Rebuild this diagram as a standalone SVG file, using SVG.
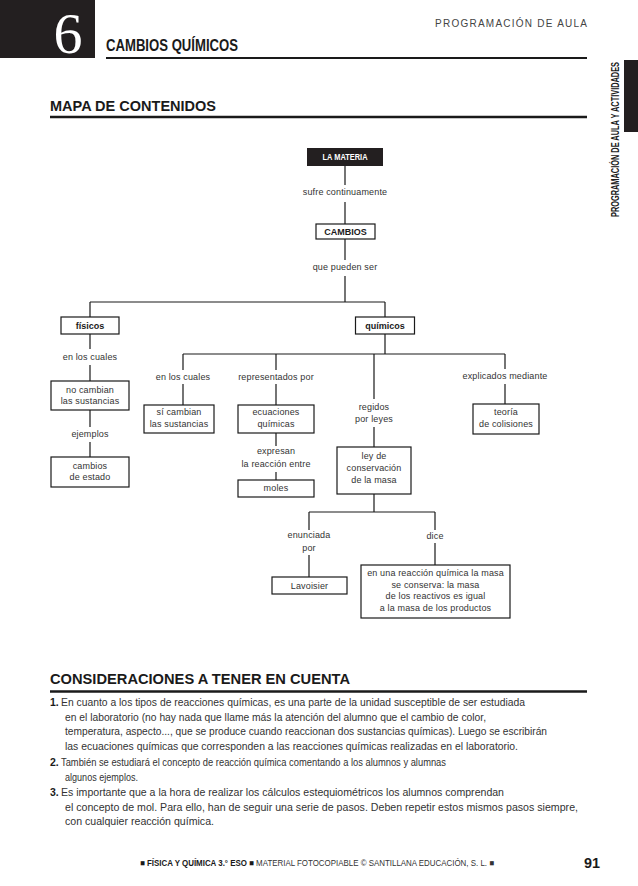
<svg xmlns="http://www.w3.org/2000/svg" width="638" height="886" viewBox="0 0 638 886">
<style>
.ln{stroke:#1a1a1a;stroke-width:1.2;fill:none}
.bx{fill:#fff;stroke:#1a1a1a;stroke-width:1.2}
.t{font-family:"Liberation Sans",Arial,sans-serif;font-size:9px;fill:#333;text-anchor:middle;letter-spacing:0.15px}
.tb{font-family:"Liberation Sans",Arial,sans-serif;font-size:9px;font-weight:bold;fill:#1a1a1a;text-anchor:middle}
.h{font-family:"Liberation Sans",Arial,sans-serif;font-weight:bold;fill:#1a1a1a}
.p{font-family:"Liberation Sans",Arial,sans-serif;font-size:10px;fill:#333}
.pn{font-family:"Liberation Sans",Arial,sans-serif;font-size:10.5px;font-weight:bold;fill:#1a1a1a}
</style>
<rect width="638" height="886" fill="#fff"/>
<!-- header -->
<g id="header">
<rect x="0" y="0" width="95" height="58" fill="#231f20"/>
<text x="68" y="53" font-family="Liberation Serif,serif" font-size="58" fill="#fff" text-anchor="middle">6</text>
<text class="h" x="106" y="51" font-size="16.5" textLength="132" lengthAdjust="spacingAndGlyphs">CAMBIOS QUÍMICOS</text>
<line x1="106" y1="58" x2="587" y2="58" stroke="#1a1a1a" stroke-width="2"/>
<text x="587" y="27" font-family="Liberation Sans,Arial,sans-serif" font-size="10" fill="#444" text-anchor="end" textLength="152" lengthAdjust="spacing">PROGRAMACIÓN DE AULA</text>
<rect x="624" y="60" width="14" height="72" fill="#231f20"/>
<text transform="translate(619,217) rotate(-90)" font-family="Liberation Sans,Arial,sans-serif" font-size="10" font-weight="bold" fill="#1a1a1a" textLength="155" lengthAdjust="spacingAndGlyphs">PROGRAMACIÓN DE AULA Y ACTIVIDADES</text>
<text class="h" x="50" y="111" font-size="15.5" textLength="166" lengthAdjust="spacingAndGlyphs">MAPA DE CONTENIDOS</text>
<line x1="50" y1="117" x2="587" y2="117" stroke="#1a1a1a" stroke-width="2.5"/>
</g>
<!-- connectors -->
<g id="connectors" class="ln">
<path d="M345,166V185 M345,202V224 M345,239V260 M345,276V302"/>
<path d="M90,302H385 M90,302V317 M385,302V317"/>
<path d="M90,334V349 M90,365V381 M90,410V427 M90,442V457"/>
<path d="M385,334V354 M183,354H505"/>
<path d="M183,354V370 M183,384V405"/>
<path d="M276,354V370 M276,384V405"/>
<path d="M374,354V399 M374,427V447"/>
<path d="M505,354V369 M505,384V404"/>
<path d="M276,433V446 M276,472V480"/>
<path d="M374,494V512 M309,512H435 M309,512V530 M309,555V577 M435,512V530 M435,543V565"/>
</g>
<!-- nodes -->
<g id="n-materia">
<rect x="307" y="148" width="76" height="18" fill="#231f20"/>
<text class="tb" x="345" y="160" style="fill:#fff" textLength="45" lengthAdjust="spacingAndGlyphs">LA MATERIA</text>
</g>
<g id="l-sufre"><text class="t" x="345" y="195">sufre continuamente</text></g>
<g id="n-cambios">
<rect class="bx" x="316" y="224" width="59" height="15"/>
<text class="tb" x="345.5" y="235">CAMBIOS</text>
</g>
<g id="l-pueden"><text class="t" x="345" y="270">que pueden ser</text></g>
<g id="n-fisicos">
<rect class="bx" x="61" y="317" width="58" height="17"/>
<text class="tb" x="90" y="329">físicos</text>
</g>
<g id="n-quimicos">
<rect class="bx" x="355.5" y="317" width="59" height="17"/>
<text class="tb" x="385" y="329">químicos</text>
</g>
<g id="l-cuales1"><text class="t" x="90" y="360">en los cuales</text></g>
<g id="n-nocambian">
<rect class="bx" x="51" y="381" width="78" height="29"/>
<text class="t" x="90" y="393">no cambian</text>
<text class="t" x="90" y="404">las sustancias</text>
</g>
<g id="l-ejemplos"><text class="t" x="90" y="437">ejemplos</text></g>
<g id="n-estado">
<rect class="bx" x="51" y="457" width="78" height="30"/>
<text class="t" x="90" y="469">cambios</text>
<text class="t" x="90" y="480">de estado</text>
</g>
<g id="l-cuales2"><text class="t" x="183" y="380">en los cuales</text></g>
<g id="n-sicambian">
<rect class="bx" x="144" y="405" width="70" height="28"/>
<text class="t" x="179" y="415">sí cambian</text>
<text class="t" x="179" y="427">las sustancias</text>
</g>
<g id="l-representados"><text class="t" x="276" y="380">representados por</text></g>
<g id="n-ecuaciones">
<rect class="bx" x="238" y="405" width="76" height="28"/>
<text class="t" x="276" y="415">ecuaciones</text>
<text class="t" x="276" y="427">químicas</text>
</g>
<g id="l-expresan">
<text class="t" x="276" y="454">expresan</text>
<text class="t" x="276" y="467">la reacción entre</text>
</g>
<g id="n-moles">
<rect class="bx" x="238" y="480" width="76" height="17"/>
<text class="t" x="276" y="491">moles</text>
</g>
<g id="l-regidos">
<text class="t" x="374" y="410">regidos</text>
<text class="t" x="374" y="422">por leyes</text>
</g>
<g id="n-ley">
<rect class="bx" x="337" y="447" width="74" height="47"/>
<text class="t" x="374" y="459">ley de</text>
<text class="t" x="374" y="471">conservación</text>
<text class="t" x="374" y="483">de la masa</text>
</g>
<g id="l-explicados"><text class="t" x="505" y="379">explicados mediante</text></g>
<g id="n-teoria">
<rect class="bx" x="473" y="404" width="66" height="30"/>
<text class="t" x="506" y="415">teoría</text>
<text class="t" x="506" y="427">de colisiones</text>
</g>
<g id="l-enunciada">
<text class="t" x="309" y="538">enunciada</text>
<text class="t" x="309" y="551">por</text>
</g>
<g id="n-lavoisier">
<rect class="bx" x="272" y="577" width="75" height="17"/>
<text class="t" x="309.5" y="589">Lavoisier</text>
</g>
<g id="l-dice"><text class="t" x="435" y="539">dice</text></g>
<g id="n-masa">
<rect class="bx" x="361" y="565" width="149" height="53"/>
<text class="t" x="435.5" y="576">en una reacción química la masa</text>
<text class="t" x="435.5" y="588">se conserva: la masa</text>
<text class="t" x="435.5" y="599">de los reactivos es igual</text>
<text class="t" x="435.5" y="611">a la masa de los productos</text>
</g>
<!-- considerations -->
<g id="consideraciones">
<text class="h" x="50" y="684" font-size="15" textLength="300" lengthAdjust="spacingAndGlyphs">CONSIDERACIONES A TENER EN CUENTA</text>
<line x1="50" y1="691.5" x2="587" y2="691.5" stroke="#1a1a1a" stroke-width="2.5"/>
<text class="pn" x="50" y="706">1.</text>
<text class="p" x="61" y="706" textLength="464" lengthAdjust="spacingAndGlyphs">En cuanto a los tipos de reacciones químicas, es una parte de la unidad susceptible de ser estudiada</text>
<text class="p" x="65" y="720.5" textLength="421" lengthAdjust="spacingAndGlyphs">en el laboratorio (no hay nada que llame más la atención del alumno que el cambio de color,</text>
<text class="p" x="65" y="735" textLength="482" lengthAdjust="spacingAndGlyphs">temperatura, aspecto..., que se produce cuando reaccionan dos sustancias químicas). Luego se escribirán</text>
<text class="p" x="65" y="749.5" textLength="453" lengthAdjust="spacingAndGlyphs">las ecuaciones químicas que corresponden a las reacciones químicas realizadas en el laboratorio.</text>
<text class="pn" x="50" y="766">2.</text>
<text class="p" x="61" y="766" textLength="385" lengthAdjust="spacingAndGlyphs">También se estudiará el concepto de reacción química comentando a los alumnos y alumnas</text>
<text class="p" x="65" y="780.5" textLength="73" lengthAdjust="spacingAndGlyphs">algunos ejemplos.</text>
<text class="pn" x="50" y="796">3.</text>
<text class="p" x="61" y="796" textLength="443" lengthAdjust="spacingAndGlyphs">Es importante que a la hora de realizar los cálculos estequiométricos los alumnos comprendan</text>
<text class="p" x="65" y="810.5" textLength="513" lengthAdjust="spacingAndGlyphs">el concepto de mol. Para ello, han de seguir una serie de pasos. Deben repetir estos mismos pasos siempre,</text>
<text class="p" x="65" y="825" textLength="149" lengthAdjust="spacingAndGlyphs">con cualquier reacción química.</text>
</g>
<!-- footer -->
<g id="footer">
<text x="140" y="866" font-family="Liberation Sans,Arial,sans-serif" font-size="8.5" fill="#333" textLength="354" lengthAdjust="spacingAndGlyphs"><tspan font-weight="bold" fill="#1a1a1a">■ FÍSICA Y QUÍMICA 3.° ESO ■</tspan> MATERIAL FOTOCOPIABLE © SANTILLANA EDUCACIÓN, S. L. ■</text>
<text x="600" y="868" font-family="Liberation Sans,Arial,sans-serif" font-size="15" font-weight="bold" fill="#1a1a1a" text-anchor="end" textLength="16" lengthAdjust="spacingAndGlyphs">91</text>
</g>
</svg>
